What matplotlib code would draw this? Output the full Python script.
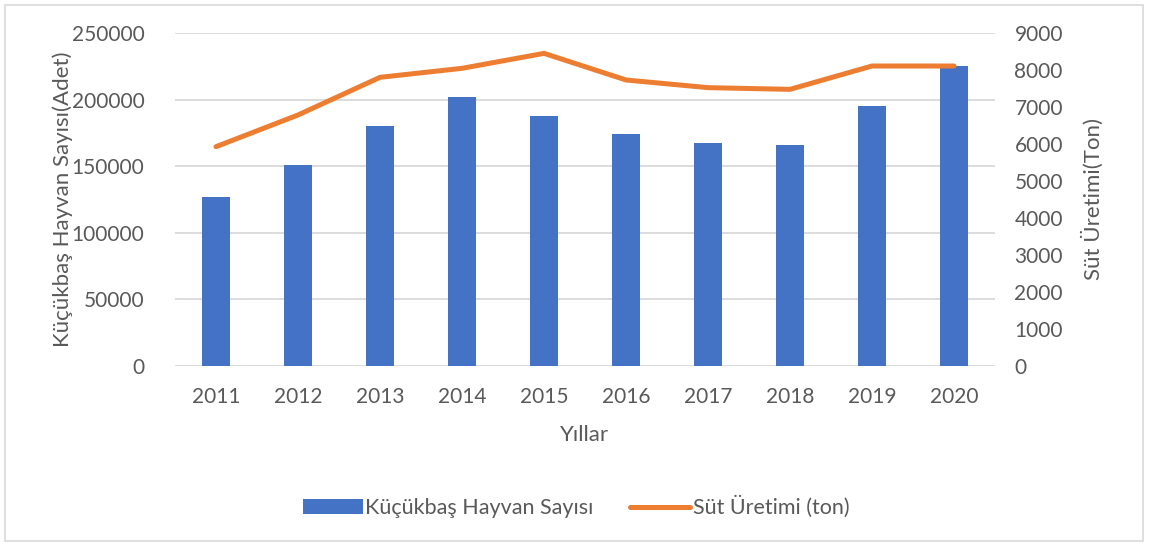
import numpy as np
import matplotlib.pyplot as plt
from matplotlib.patches import Rectangle, Patch
from matplotlib.lines import Line2D

plt.rcParams['font.family'] = ['Lato', 'DejaVu Sans']

years = ['2011', '2012', '2013', '2014', '2015', '2016', '2017', '2018', '2019', '2020']
hayvan = [127000, 150700, 180200, 202200, 187900, 174400, 167200, 166200, 195200, 225200]
sut = [5927, 6784, 7802, 8045, 8450, 7730, 7523, 7477, 8108, 8108]

blue = '#4472c4'
orange = '#ed7d31'
txt = '#595959'

fig = plt.figure(figsize=(11.5, 5.45), dpi=100)
ax = fig.add_axes([175 / 1150, 1 - 366 / 545, 820 / 1150, 333 / 545])
ax2 = ax.twinx()

x = np.arange(len(years))
ax.bar(x, hayvan, width=0.34, color=blue, zorder=3)
ax2.plot(x, sut, color=orange, lw=3.6, solid_capstyle='round', zorder=4)

ax.set_xlim(-0.5, len(years) - 0.5)
ax.set_ylim(0, 250000)
ax.set_yticks(np.arange(0, 250001, 50000))
ax2.set_ylim(0, 9000)
ax2.set_yticks(np.arange(0, 9001, 1000))
ax.set_xticks(x)
ax.set_xticklabels(years)

ax.grid(axis='y', color='#d9d9d9', lw=1.3, zorder=0)
for a in (ax, ax2):
    for s in a.spines.values():
        s.set_visible(False)
    a.tick_params(length=0, labelsize=15, colors=txt)
ax.tick_params(axis='y', pad=22)
ax.tick_params(axis='x', pad=15)
ax2.tick_params(axis='y', pad=14)

ax.set_xlabel('Yıllar', fontsize=16, color=txt, labelpad=13)
ax.set_ylabel('Küçükbaş Hayvan Sayısı(Adet)', fontsize=16, color=txt)
ax2.set_ylabel('Süt Üretimi(Ton)', fontsize=16, color=txt)
ax.yaxis.set_label_coords(-0.124, 0.5)
ax2.yaxis.set_label_coords(1.105, 0.5)

handles = [Patch(facecolor=blue), Line2D([0], [0], color=orange, lw=3.6, solid_capstyle='round')]
labels = ['Küçükbaş Hayvan Sayısı', 'Süt Üretimi (ton)']
fig.legend(handles, labels, loc='center', bbox_to_anchor=(576 / 1150, 1 - 507 / 545),
           ncol=2, frameon=False, fontsize=15.5, labelcolor=txt, handlelength=2.8,
           handletextpad=0.1, columnspacing=1.7)

fig.patches.append(Rectangle((5 / 1150, 4 / 545), 1138 / 1150, 536 / 545, transform=fig.transFigure,
                             fill=False, edgecolor='#d9d9d9', lw=1.2))

fig.savefig('out.png', dpi=100)
